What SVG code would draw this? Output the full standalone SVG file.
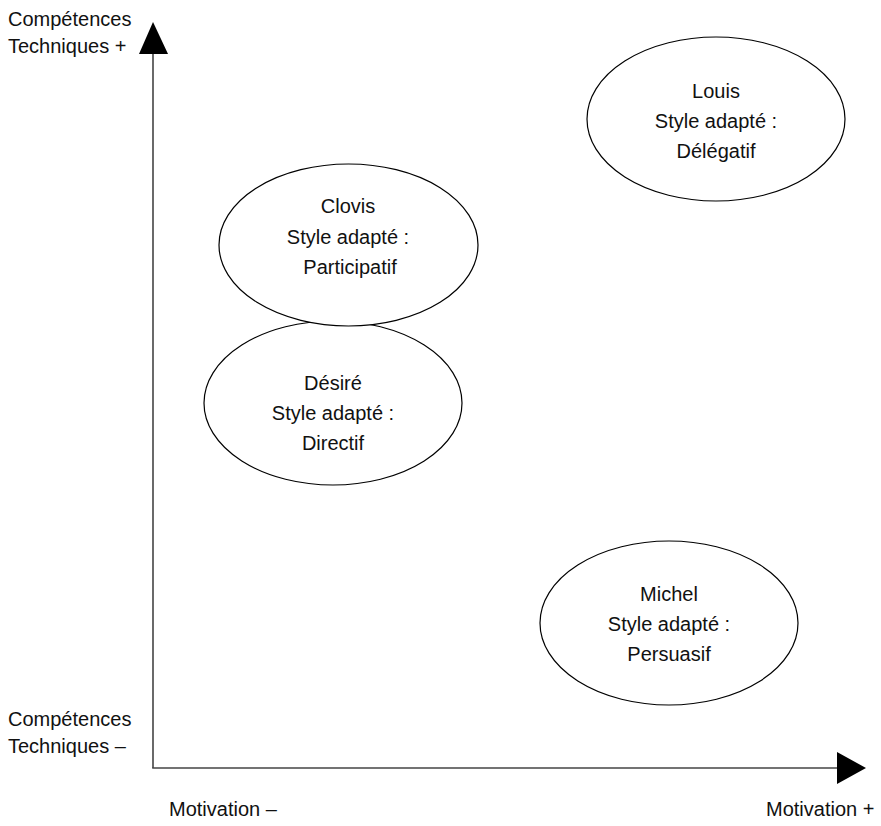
<svg xmlns="http://www.w3.org/2000/svg" width="881" height="826" viewBox="0 0 881 826">
<style>
  text { font-family: "Liberation Sans", Arial, sans-serif; font-size: 20px; fill: #111; }
  .node ellipse { fill: #fff; stroke: #000; stroke-width: 1.2; }
  .axis { stroke: #444; stroke-width: 1.6; fill: none; }
  .head { fill: #000; stroke: none; }
</style>
<rect width="881" height="826" fill="#fff"/>
<g id="axes">
  <line class="axis" x1="153" y1="50" x2="153" y2="768"/>
  <line class="axis" x1="152.2" y1="768" x2="840" y2="768"/>
  <polygon class="head" points="153,22 139,54 168,54"/>
  <polygon class="head" points="866,768 837,752 837,784"/>
</g>
<g id="labels">
  <text x="8" y="26">Compétences</text>
  <text x="8" y="53">Techniques +</text>
  <text x="8" y="726">Compétences</text>
  <text x="8" y="753">Techniques –</text>
  <text x="169" y="816">Motivation –</text>
  <text x="766" y="816">Motivation +</text>
</g>
<g id="louis" class="node">
  <ellipse cx="716" cy="119" rx="129" ry="82"/>
  <text x="716" y="98" text-anchor="middle">Louis</text>
  <text x="716" y="128" text-anchor="middle">Style adapté :</text>
  <text x="716" y="158" text-anchor="middle">Délégatif</text>
</g>
<g id="desire" class="node">
  <ellipse cx="333" cy="403" rx="129" ry="82"/>
  <text x="333" y="390" text-anchor="middle">Désiré</text>
  <text x="333" y="420" text-anchor="middle">Style adapté :</text>
  <text x="333" y="450" text-anchor="middle">Directif</text>
</g>
<g id="clovis" class="node">
  <ellipse cx="348.5" cy="245" rx="129.5" ry="81"/>
  <text x="348" y="213" text-anchor="middle">Clovis</text>
  <text x="348" y="244" text-anchor="middle">Style adapté :</text>
  <text x="350" y="274" text-anchor="middle">Participatif</text>
</g>
<g id="michel" class="node">
  <ellipse cx="669" cy="623" rx="129" ry="82"/>
  <text x="669" y="601" text-anchor="middle">Michel</text>
  <text x="669" y="631" text-anchor="middle">Style adapté :</text>
  <text x="669" y="661" text-anchor="middle">Persuasif</text>
</g>
</svg>
